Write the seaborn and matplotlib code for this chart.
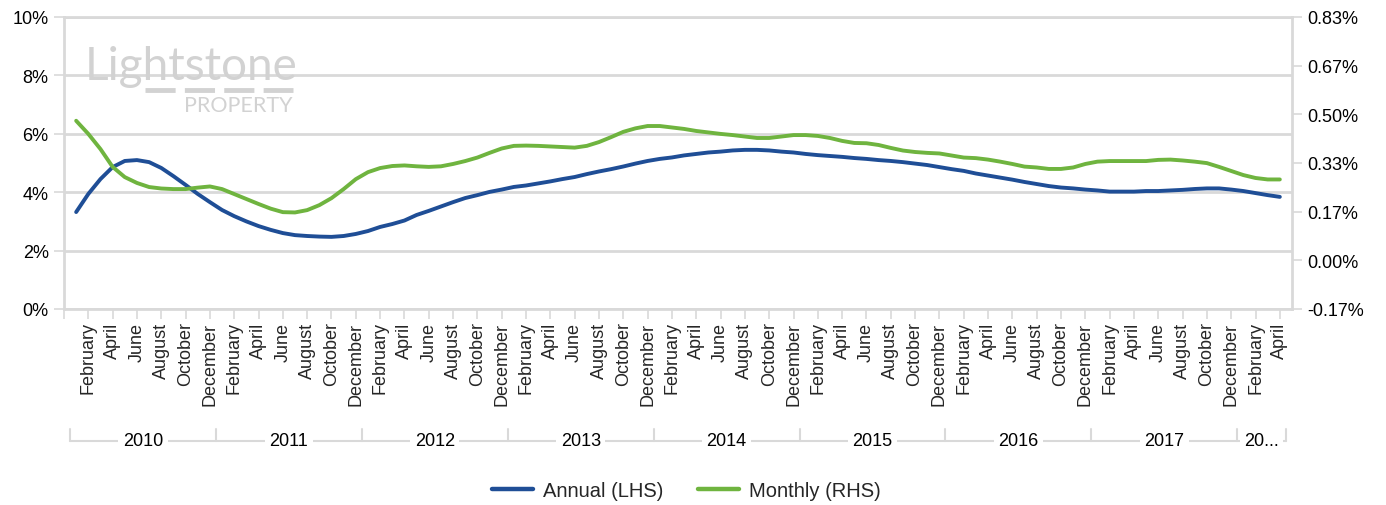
import matplotlib
matplotlib.use("Agg")
import matplotlib.pyplot as plt
import seaborn as sns
import pandas as pd
from matplotlib.lines import Line2D

# =====================
# Data (monthly, Jan 2010 - Apr 2018)
# =====================
years = ["2010", "2011", "2012", "2013", "2014", "2015", "2016", "2017", "20..."]
months_per_year = [12, 12, 12, 12, 12, 12, 12, 12, 4]
month_names = ["January", "February", "March", "April", "May", "June", "July",
               "August", "September", "October", "November", "December"]

# Annual growth, % (left axis)
annual = [
    3.32, 3.94, 4.45, 4.86, 5.07, 5.10, 5.03, 4.83, 4.55, 4.25, 3.94, 3.66,
    3.39, 3.18, 3.00, 2.84, 2.71, 2.60, 2.53, 2.50, 2.48, 2.47, 2.50, 2.57,
    2.67, 2.81, 2.91, 3.03, 3.22, 3.36, 3.51, 3.66, 3.80, 3.90, 4.01, 4.09,
    4.18, 4.23, 4.30, 4.37, 4.45, 4.52, 4.62, 4.71, 4.79, 4.88, 4.98, 5.07,
    5.14, 5.19, 5.26, 5.31, 5.36, 5.39, 5.43, 5.45, 5.45, 5.43, 5.39, 5.36,
    5.31, 5.27, 5.24, 5.21, 5.17, 5.14, 5.10, 5.07, 5.03, 4.98, 4.93, 4.86,
    4.79, 4.73, 4.64, 4.57, 4.50, 4.43, 4.35, 4.28, 4.21, 4.16, 4.13, 4.09,
    4.06, 4.02, 4.02, 4.02, 4.04, 4.04, 4.06, 4.08, 4.11, 4.13, 4.13, 4.09,
    4.04, 3.97, 3.90, 3.84,
]

# Monthly growth, % (right axis)
monthly = [
    0.478, 0.433, 0.381, 0.320, 0.285, 0.265, 0.251, 0.246, 0.244, 0.244, 0.249, 0.253,
    0.244, 0.227, 0.210, 0.193, 0.177, 0.165, 0.164, 0.172, 0.189, 0.213, 0.244, 0.278,
    0.302, 0.316, 0.323, 0.325, 0.322, 0.320, 0.322, 0.330, 0.340, 0.352, 0.368, 0.383,
    0.392, 0.393, 0.392, 0.390, 0.388, 0.386, 0.392, 0.405, 0.422, 0.440, 0.452, 0.460,
    0.460, 0.455, 0.450, 0.443, 0.438, 0.433, 0.429, 0.424, 0.419, 0.419, 0.424, 0.429,
    0.429, 0.426, 0.419, 0.409, 0.402, 0.401, 0.395, 0.385, 0.376, 0.371, 0.368, 0.366,
    0.359, 0.352, 0.350, 0.345, 0.338, 0.330, 0.321, 0.318, 0.313, 0.313, 0.318, 0.330,
    0.338, 0.340, 0.340, 0.340, 0.340, 0.344, 0.345, 0.342, 0.338, 0.333, 0.320, 0.306,
    0.292, 0.282, 0.277, 0.277,
]

left_ticks = [0, 2, 4, 6, 8, 10]
right_ticks = [-1 / 6, 0, 1 / 6, 2 / 6, 3 / 6, 4 / 6, 5 / 6]

BLUE = "#1f4e96"
GREEN = "#6fb43f"
GRID = "#d9d9d9"

df = pd.DataFrame({"idx": range(len(annual)), "annual": annual, "monthly": monthly})
df["month"] = [month_names[i % 12] for i in df["idx"]]

# =====================
# Figure
# =====================
sns.set_theme(style="white")
plt.rcParams["font.family"] = ["Liberation Sans", "DejaVu Sans"]

fig = plt.figure(figsize=(13.86, 5.06), dpi=100)
ax = fig.add_axes([64 / 1386, 1 - 310 / 506, 1228 / 1386, 292 / 506])
ax2 = ax.twinx()

sns.lineplot(data=df, x="idx", y="annual", ax=ax, color=BLUE, linewidth=2.8)
sns.lineplot(data=df, x="idx", y="monthly", ax=ax2, color=GREEN, linewidth=2.8)

# left axis
ax.set_xlim(-1, len(annual))
ax.set_ylim(0, 10)
ax.set_yticks(left_ticks)
ax.set_yticklabels([f"{t}%" for t in left_ticks], fontsize=13, color="black")
ax.yaxis.grid(True, color=GRID, linewidth=2)
ax.set_axisbelow(True)
ax.set_xlabel("")
ax.set_ylabel("")

# x ticks: every second month, first one on the left edge
xt = [-1] + [i for i in df["idx"] if i % 2 == 1]
ax.set_xticks(xt)
ax.set_xticklabels([""] + [df["month"][i] for i in xt[1:]],
                   rotation=90, fontsize=13, va="top", ha="center")
ax.tick_params(axis="x", length=7, width=1.2, color=GRID, pad=2, bottom=True)
ax.tick_params(axis="y", length=7, width=1.2, color=GRID, pad=4, left=True)

for s in ["left", "bottom", "top"]:
    ax.spines[s].set_color(GRID)
    ax.spines[s].set_linewidth(2)
ax.spines["right"].set_visible(False)

# right axis
ax2.set_ylim(right_ticks[0], right_ticks[-1])
ax2.set_yticks(right_ticks)
ax2.set_yticklabels([f"{t:.2f}%".replace("-0.00", "0.00") for t in right_ticks],
                    fontsize=13, color="black")
ax2.set_ylabel("")
ax2.tick_params(axis="y", length=7, width=1.2, color=GRID, pad=4, right=True)
for s in ["left", "bottom", "top"]:
    ax2.spines[s].set_visible(False)
ax2.spines["right"].set_color(GRID)
ax2.spines["right"].set_linewidth(2)
ax2.grid(False)

# year group labels under the month labels
trans = ax.get_xaxis_transform()
bounds = [-0.5]
for n in months_per_year:
    bounds.append(bounds[-1] + n)
y_line, y_top = -0.452, -0.411
ax.plot([bounds[0], bounds[-1]], [y_line, y_line], transform=trans,
        color=GRID, linewidth=1.5, clip_on=False)
for b in bounds:
    ax.plot([b, b], [y_top, y_line], transform=trans, color=GRID,
            linewidth=1.5, clip_on=False)
for yr, a, b in zip(years, bounds[:-1], bounds[1:]):
    ax.text((a + b) / 2, y_line, yr, transform=trans, ha="center", va="center",
            fontsize=13, color="black",
            bbox=dict(boxstyle="square,pad=0.25", fc="white", ec="none"))

# watermark logo
fig.text(85 / 1386, 1 - 80 / 506, "Lightstone", fontsize=33, color="#d2d2d2",
         family="Lato", ha="left", va="baseline")
fig.text(293 / 1386, 1 - 112 / 506, "PROPERTY", fontsize=15.5, color="#d2d2d2",
         family="Lato", ha="right", va="baseline")
fig.add_artist(Line2D([145 / 1386, 293 / 1386], [1 - 91 / 506, 1 - 91 / 506],
                      transform=fig.transFigure, color="#d2d2d2", linewidth=3.5,
                      linestyle=(0, (6.2, 1.9)), solid_capstyle="butt",
                      dash_capstyle="butt"))

# legend
handles = [Line2D([0], [0], color=BLUE, linewidth=3.2),
           Line2D([0], [0], color=GREEN, linewidth=3.2)]
fig.legend(handles, ["Annual (LHS)", "Monthly (RHS)"], loc="center",
           bbox_to_anchor=(0.4953, 1 - 492 / 506), ncol=2, frameon=False,
           fontsize=14.5, handlelength=2.05, handletextpad=0.5, columnspacing=1.7)

fig.savefig("out.png", dpi=100)
